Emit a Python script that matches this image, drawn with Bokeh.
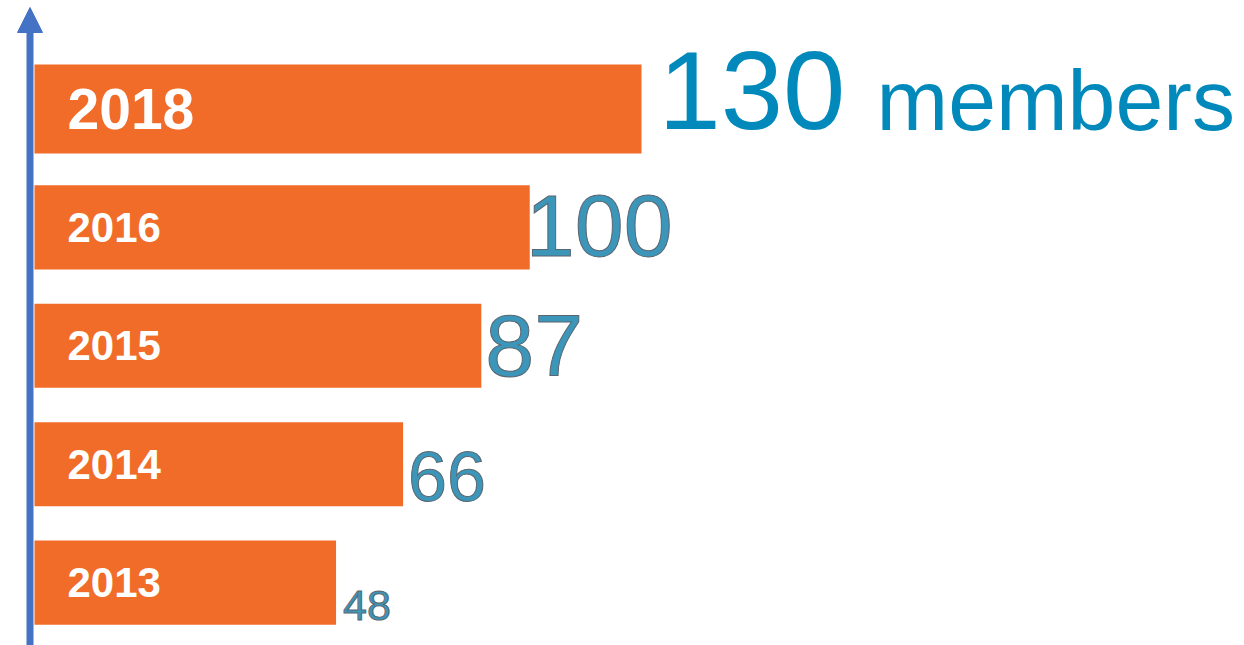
from bokeh.plotting import figure
from bokeh.models import Range1d, Arrow, NormalHead, ColumnDataSource
from bokeh.core.properties import value
from bokeh.embed import file_html
from bokeh.resources import INLINE

# ---- data ----
years = ["2013", "2014", "2015", "2016", "2018"]
members = [48, 66, 87, 100, 130]
unit_label = "members"

# ---- styles ----
BAR_COLOR = "#F06C28"
ARROW_COLOR = "#4472C4"
NUM_COLOR = "#3C96B9"
NUM_OUTLINE = "#5a6670"
TOP_COLOR = "#0089BA"
FONT = "Liberation Sans"

W, H = 1244, 645
PX_PER_UNIT = 3.725
PX_PER_ROW = 118.4
X_START = 130 - 641 / PX_PER_UNIT
X_END = X_START + W / PX_PER_UNIT
BASE = X_START + 34 / PX_PER_UNIT
Y_END = 4 + 108.5 / PX_PER_ROW
Y_START = Y_END - H / PX_PER_ROW
BL = 0.36  # empirical baseline correction (fraction of font size)

bar_heights = [0.71, 0.71, 0.71, 0.71, 0.75]
year_sizes = [42, 42, 42, 42, 57]
num_sizes = [43, 70, 88, 88, 112]
num_dx = [7, 5, 4, -4, 17]
num_dy = [38, 37, 32, 30, 22]

idx = list(range(len(years)))

p = figure(width=W, height=H,
           x_range=Range1d(X_START, X_END), y_range=Range1d(Y_START, Y_END),
           output_backend="svg", toolbar_location=None, min_border=0,
           x_axis_location=None, y_axis_location=None)
p.grid.visible = False
p.outline_line_color = None
p.background_fill_color = "white"
p.border_fill_color = "white"

src = ColumnDataSource(dict(y=idx, right=members, left=[BASE] * len(members), h=bar_heights))
p.hbar(y="y", left="left", right="right", height="h", source=src,
       fill_color=BAR_COLOR, line_color=None)

# year labels inside bars
for i, yr in enumerate(years):
    s = year_sizes[i]
    p.text(x=[BASE], y=[idx[i]], text=[yr], x_offset=33, y_offset=0.358 * s - BL * s,
           text_font=value(FONT), text_font_style="bold", text_font_size=f"{s}px",
           text_color="white", text_align="left", text_baseline="alphabetic")

# value labels
last = len(members) - 1
for i, m in enumerate(members):
    s = num_sizes[i]
    dy = num_dy[i] - BL * s
    if i == last:
        p.text(x=[m], y=[idx[i]], text=[str(m)], x_offset=num_dx[i], y_offset=dy,
               text_font=value(FONT), text_font_size=f"{s}px",
               text_color=TOP_COLOR, text_align="left", text_baseline="alphabetic")
        p.text(x=[m], y=[idx[i]], text=[unit_label], x_offset=235,
               y_offset=num_dy[i] - BL * 86,
               text_font=value(FONT), text_font_size="86px",
               text_color=TOP_COLOR, text_align="left", text_baseline="alphabetic")
    else:
        p.text(x=[m], y=[idx[i]], text=[str(m)], x_offset=num_dx[i], y_offset=dy,
               text_font=value(FONT), text_font_size=f"{s}px",
               text_color=NUM_COLOR, text_outline_color=NUM_OUTLINE,
               text_align="left", text_baseline="alphabetic")

# vertical arrow axis
AX = X_START + 29.5 / PX_PER_UNIT
p.add_layout(Arrow(end=NormalHead(size=25, fill_color=ARROW_COLOR, line_color=ARROW_COLOR),
                   x_start=AX, y_start=Y_START, x_end=AX, y_end=Y_END - 7 / PX_PER_ROW,
                   line_color=ARROW_COLOR, line_width=7))

open("out.html", "w").write(file_html(p, INLINE))
